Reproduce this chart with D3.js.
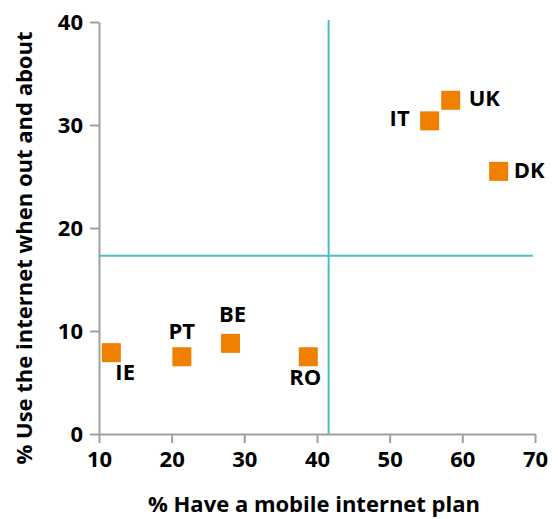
<!DOCTYPE html>
<html>
<head>
    <meta charset="UTF-8">
    <title></title>
    <script src="https://cdn.jsdelivr.net/npm/d3@7"></script>
    <style>
        *{margin:0;padding:0;}
        body{background:#fff;}
        text{font-family:"Open Sans",sans-serif;font-weight:bold;fill:#000;}
    </style>
</head>
<body>
<div id="mychart" style="width:558px;height:519px;"></div>
<script>
    // 数据
    var countries=["IE","PT","BE","RO","IT","UK","DK"];
    var mobilePlan=[11.7,21.4,28.1,38.8,55.5,58.4,65.0];
    var useOut=[7.9,7.5,8.8,7.5,30.4,32.4,25.5];
    var xticks=[10,20,30,40,50,60,70];
    var yticks=[0,10,20,30,40];
    var avgX=41.6, avgY=17.3;
    var xtitle="% Have a mobile internet plan";
    var ytitle="% Use the internet when out and about";

    // 标签位置
    var labelPos={IE:[4,27,"start"],PT:[0,-18,"middle"],BE:[2,-21,"middle"],RO:[-3,28,"middle"],
                  IT:[-20,5,"end"],UK:[18,6,"start"],DK:[15,7,"start"]};

    var svg=d3.select("#mychart").append("svg").attr("width",558).attr("height",519);

    var xscale=d3.scaleLinear().domain([10,70]).range([99,535]);
    var yscale=d3.scaleLinear().domain([0,40]).range([434,22]);

    // y轴
    var gy=svg.append("g").attr("transform","translate(99,0)")
            .call(d3.axisLeft(yscale).tickValues(yticks).tickSize(9).tickPadding(7).tickSizeOuter(0));
    // x轴
    var gx=svg.append("g").attr("transform","translate(0,434)")
            .call(d3.axisBottom(xscale).tickValues(xticks).tickSize(9).tickPadding(8).tickSizeOuter(0));
    svg.selectAll(".domain,.tick line").attr("stroke","#a0a0a0").attr("stroke-width",2);
    svg.selectAll(".tick text").style("font-size","22px").attr("fill","#000")
            .style("font-family","'Open Sans',sans-serif").style("font-weight","bold");
    gy.selectAll(".tick text").attr("dy","0.36em");

    // 平均线
    svg.append("line")
            .attr("x1",xscale(avgX)).attr("x2",xscale(avgX))
            .attr("y1",yscale(0)).attr("y2",yscale(40.2))
            .attr("stroke","#4bbfbf").attr("stroke-width",2);
    svg.append("line")
            .attr("x1",xscale(10)).attr("x2",xscale(69.7))
            .attr("y1",yscale(avgY)).attr("y2",yscale(avgY))
            .attr("stroke","#4bbfbf").attr("stroke-width",2);

    // 散点
    var s=19;
    svg.append("g").selectAll("rect")
            .data(countries).enter().append("rect")
            .attr("x",function(d,i){return xscale(mobilePlan[i])-s/2;})
            .attr("y",function(d,i){return yscale(useOut[i])-s/2;})
            .attr("width",s).attr("height",s)
            .style("fill","#f08000");
    svg.append("g").selectAll("text")
            .data(countries).enter().append("text")
            .attr("x",function(d,i){return xscale(mobilePlan[i])+labelPos[d][0];})
            .attr("y",function(d,i){return yscale(useOut[i])+labelPos[d][1];})
            .attr("text-anchor",function(d){return labelPos[d][2];})
            .style("font-size","22px")
            .text(function(d){return d;});

    // 轴标题
    svg.append("text").attr("x",314).attr("y",512).attr("text-anchor","middle")
            .style("font-size","22px").text(xtitle);
    svg.append("text").attr("transform","translate(32,248) rotate(-90)").attr("text-anchor","middle")
            .style("font-size","22px").text(ytitle);
</script>
</body>
</html>
